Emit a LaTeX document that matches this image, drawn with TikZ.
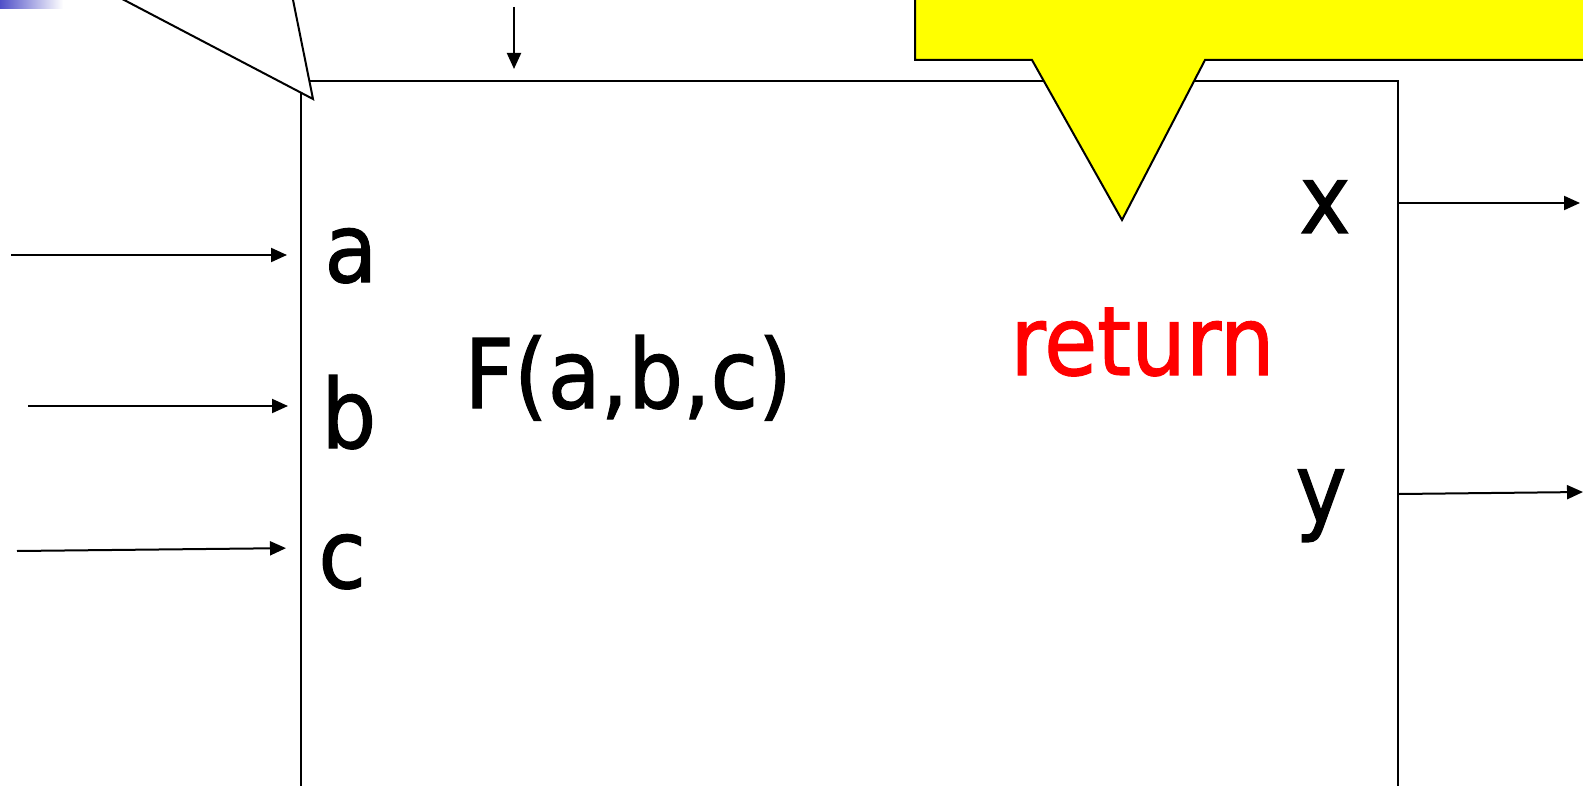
\documentclass[tikz,border=0pt]{standalone}
\usepackage{fontspec}
\setmainfont{DejaVu Sans}[FakeStretch=0.9,FakeBold=1.2]
\usetikzlibrary{arrows.meta, positioning, calc}
\definecolor{barblue}{RGB}{80,80,200}
\definecolor{calloutyellow}{RGB}{255,255,0}

\begin{document}
\begin{tikzpicture}[x=0.5pt,y=-0.5pt,
  fbox/.style={draw,line width=1pt,minimum width=548.5pt,minimum height=353.25pt,
               inner sep=0pt,anchor=north west},
  lbl/.style={font=\fontsize{48}{58}\selectfont,inner sep=0pt,anchor=base west},
  arr/.style={-{Triangle[length=8pt,width=7pt]},line width=1pt},
  callout/.style={draw,line width=1pt,line join=miter}
]
\useasboundingbox (0,0) rectangle (1583,786);
\clip (0,0) rectangle (1583,786);
\shade[left color=barblue,right color=white] (0,0) rectangle (63,9);
% function block
\node[fbox] (box) at (300,80) {};
% callouts
\filldraw[callout,fill=white] (86,-20) -- (313,99) -- (289,-20) -- cycle;
\filldraw[callout,fill=calloutyellow] (915,-20) -- (915,60) -- (1032,60) -- (1122,220)
  -- (1205,60) -- (1600,60) -- (1600,-20) -- cycle;
% labels
\node[lbl] (la) at (324,282) {a};
\node[lbl] (lb) at (321,448) {b};
\node[lbl] (lc) at (318,588) {c};
\node[lbl] (fn) at (464,408) {F(a,b,c)};
\node[lbl,red] (ret) at (1010,375) {return};
\node[lbl] (lx) at (1299,233) {x};
\node[lbl] (ly) at (1295,522) {y};
% inputs and outputs
\coordinate (ina) at (11,255);
\coordinate (inb) at (28,406);
\coordinate (inc) at (17,551);
\coordinate (top) at (514,7);
\coordinate (outx) at (1580,203);
\coordinate (outy) at (1583,492);
\draw[arr,shorten >=6.5pt] (ina) -- (ina -| box.west);
\draw[arr,shorten >=6pt] (inb) -- (inb -| box.west);
\draw[arr,shorten >=7pt] (inc) -- ([yshift=1.5pt]inc -| box.west);
\draw[arr,shorten >=5.5pt] (top) -- (top |- box.north);
\draw[arr] (outx -| box.east) -- (outx);
\draw[arr] ([yshift=-1pt]outy -| box.east) -- (outy);
\end{tikzpicture}
\end{document}
